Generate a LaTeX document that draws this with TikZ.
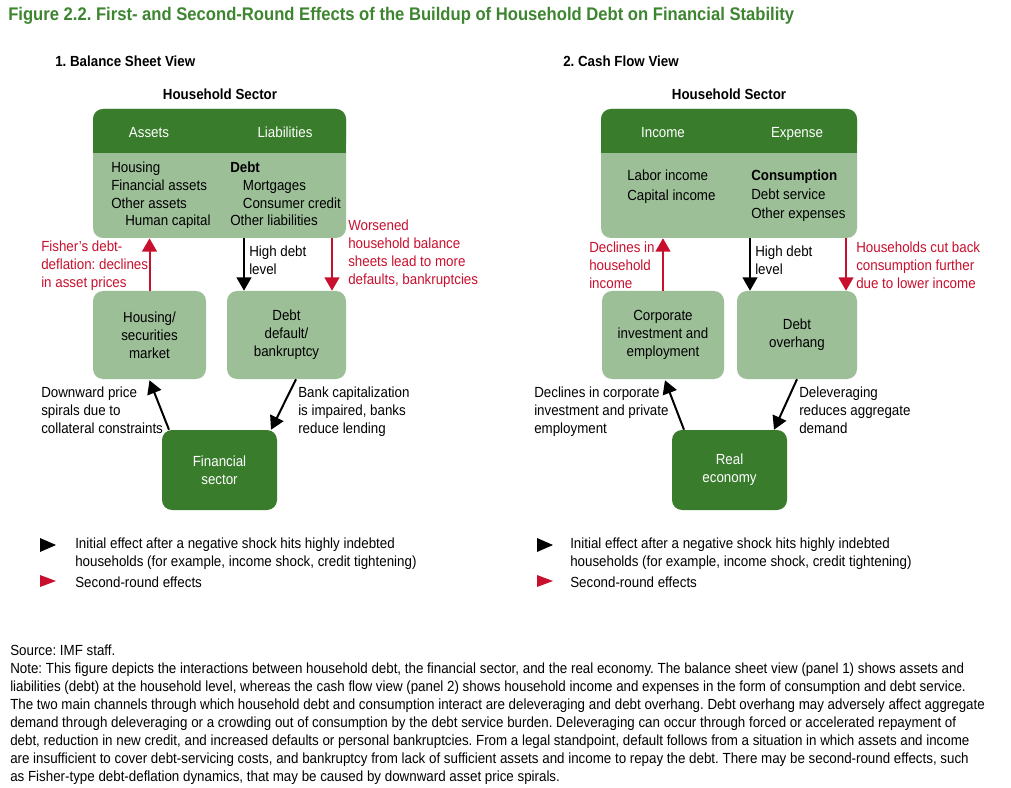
\documentclass[tikz,border=0pt]{standalone}
\usepackage{fontspec}
\setmainfont{Liberation Sans}[FakeStretch=0.91]
\usetikzlibrary{arrows.meta,positioning}
\definecolor{imf_title}{RGB}{61,133,48}
\definecolor{imf_dark}{RGB}{56,124,44}
\definecolor{imf_light}{RGB}{157,191,152}
\definecolor{imf_red}{RGB}{200,16,46}
\newdimen\pxu \pxu=0.75pt
\frenchspacing
\begin{document}
\begin{tikzpicture}[x=0.75pt, y=-0.75pt, font=\fontsize{11}{13.5}\selectfont,
    darkbox/.style={fill=imf_dark, rounded corners=10\pxu, text=white, align=center, inner sep=0},
    lightbox/.style={fill=imf_light, rounded corners=10\pxu, align=center, inner sep=0},
    blkarrow/.style={line width=2\pxu, -{Triangle[length=10pt,width=11pt]}},
    redarrow/.style={blkarrow, imf_red},
    lbl/.style={anchor=north west, inner sep=0, align=left},
    redlbl/.style={lbl, text=imf_red},
    headlbl/.style={anchor=base, inner sep=0, text=white},
    viewlbl/.style={inner sep=0, font=\fontsize{11}{13}\selectfont\bfseries}]
    \useasboundingbox (0,0) rectangle (1011,788);
    \fill[white] (0,0) rectangle (1011,788);
    % titles
    \node[anchor=base west, inner sep=0, text=imf_title, font=\fontsize{13.7}{16}\selectfont\bfseries] (title) at (8,21)
      {Figure 2.2. First- and Second-Round Effects of the Buildup of Household Debt on Financial Stability};
    \node[viewlbl, anchor=base west] (viewA) at (55,67) {1. Balance Sheet View};
    \node[viewlbl, anchor=base west] (viewB) at (563,67) {2. Cash Flow View};
    \node[viewlbl, anchor=base] (sectA) at (220,100) {Household Sector};
    \node[viewlbl, anchor=base] (sectB) at (729,100) {Household Sector};

    % panel 1: balance sheet view
    \node[lightbox, minimum width=253\pxu, minimum height=129\pxu] (hhA) at (219.5,173.5) {};
    \node[darkbox, minimum width=253\pxu, minimum height=44\pxu, anchor=north] (hdA) at (hhA.north) {};
    \fill[imf_dark] ([yshift=12\pxu]hdA.south west) rectangle (hdA.south east);
    \node[headlbl] (assets) at (149,138) {Assets};
    \node[headlbl] (liabs) at (285,138) {Liabilities};
    \node[lbl, font=\fontsize{11}{13.25}\selectfont] (assetlist) at (111,162)
      {Housing\\Financial assets\\Other assets\\\hspace*{10.5pt}Human capital};
    \node[lbl, font=\fontsize{11}{13.25}\selectfont] (liablist) at (230,162)
      {\textbf{Debt}\\\hspace*{9.5pt}Mortgages\\\hspace*{9.5pt}Consumer credit\\Other liabilities};

    \node[lightbox, minimum width=113\pxu, minimum height=88\pxu] (hsm) at (149.5,335) {Housing/\\securities\\market};
    \node[lightbox, minimum width=119\pxu, minimum height=88\pxu] (ddb) at (286.5,335) {Debt\\default/\\bankruptcy};
    \node[darkbox, minimum width=115\pxu, minimum height=80\pxu] (fin) at (219.5,470) {Financial\\sector};

    \draw[redarrow] (hsm.north) -- (hsm.north |- hhA.south);
    \draw[blkarrow] ([xshift=-42.5\pxu]ddb.north |- hhA.south) -- ([xshift=-42.5\pxu]ddb.north);
    \draw[redarrow] ([xshift=45.5\pxu]ddb.north |- hhA.south) -- ([xshift=45.5\pxu]ddb.north);
    \draw[blkarrow] ([xshift=-50.5\pxu]fin.north) -- ([yshift=-1\pxu]hsm.south);
    \draw[blkarrow] ([xshift=9.5\pxu]ddb.south) -- ([xshift=51.5\pxu]fin.north);

    \node[redlbl] (fisherlbl) at (41,241) {Fisher’s debt-\\deflation: declines\\in asset prices};
    \node[lbl] (highA) at (249,246) {High debt\\level};
    \node[redlbl] (worselbl) at (348,220) {Worsened\\household balance\\sheets lead to more\\defaults, bankruptcies};
    \node[lbl] (spirallbl) at (41,387) {Downward price\\spirals due to\\collateral constraints};
    \node[lbl] (banklbl) at (298,387) {Bank capitalization\\is impaired, banks\\reduce lending};

    % panel 2: cash flow view
    \node[lightbox, minimum width=256\pxu, minimum height=129\pxu] (hhB) at (729,173.5) {};
    \node[darkbox, minimum width=256\pxu, minimum height=44\pxu, anchor=north] (hdB) at (hhB.north) {};
    \fill[imf_dark] ([yshift=12\pxu]hdB.south west) rectangle (hdB.south east);
    \node[headlbl] (income) at (663,138) {Income};
    \node[headlbl] (expense) at (797,138) {Expense};
    \node[lbl, font=\fontsize{11}{14.5}\selectfont] (inclist) at (627,170) {Labor income\\Capital income};
    \node[lbl, font=\fontsize{11}{14}\selectfont] (explist) at (751,170)
      {\textbf{Consumption}\\Debt service\\Other expenses};

    \node[lightbox, minimum width=122\pxu, minimum height=88\pxu] (cie) at (663,335) {Corporate\\investment and\\employment};
    \node[lightbox, minimum width=120\pxu, minimum height=88\pxu] (dov) at (797,335) {Debt\\overhang};
    \node[darkbox, minimum width=115\pxu, minimum height=80\pxu] (rec) at (729.5,470) {Real\\economy};

    \draw[redarrow] (cie.north) -- (cie.north |- hhB.south);
    \draw[blkarrow] ([xshift=-47\pxu]dov.north |- hhB.south) -- ([xshift=-47\pxu]dov.north);
    \draw[redarrow] ([xshift=49\pxu]dov.north |- hhB.south) -- ([xshift=49\pxu]dov.north);
    \draw[blkarrow] ([xshift=-45.5\pxu]rec.north) -- ([xshift=2\pxu,yshift=-1\pxu]cie.south);
    \draw[blkarrow] (dov.south) -- ([xshift=44.5\pxu]rec.north);

    \node[redlbl] (inclbl) at (589,242) {Declines in\\household\\income};
    \node[lbl] (highB) at (755,246) {High debt\\level};
    \node[redlbl] (cutlbl) at (856,242) {Households cut back\\consumption further\\due to lower income};
    \node[lbl] (corplbl) at (534,387) {Declines in corporate\\investment and private\\employment};
    \node[lbl] (delevlbl) at (799,387) {Deleveraging\\reduces aggregate\\demand};

    % legends
    \foreach \lx/\tx/\nm in {40/75/A, 537/570/B}{
      \fill (\lx,538) -- (\lx+16,545) -- (\lx,552) -- cycle;
      \fill[imf_red] (\lx,575) -- (\lx+16,581) -- (\lx,587) -- cycle;
      \node[lbl] (init\nm) at (\tx,538) {Initial effect after a negative shock hits highly indebted\\households (for example, income shock, credit tightening)};
      \node[lbl] (second\nm) at (\tx,577) {Second-round effects};
    }

    % source and note
    \node[lbl] (note) at (10,645) {Source: IMF staff.\\
      Note: This figure depicts the interactions between household debt, the financial sector, and the real economy. The balance sheet view (panel 1) shows assets and\\
      liabilities (debt) at the household level, whereas the cash flow view (panel 2) shows household income and expenses in the form of consumption and debt service.\\
      The two main channels through which household debt and consumption interact are deleveraging and debt overhang. Debt overhang may adversely affect aggregate\\
      demand through deleveraging or a crowding out of consumption by the debt service burden. Deleveraging can occur through forced or accelerated repayment of\\
      debt, reduction in new credit, and increased defaults or personal bankruptcies. From a legal standpoint, default follows from a situation in which assets and income\\
      are insufficient to cover debt-servicing costs, and bankruptcy from lack of sufficient assets and income to repay the debt. There may be second-round effects, such\\
      as Fisher-type debt-deflation dynamics, that may be caused by downward asset price spirals.};
\end{tikzpicture}
\end{document}
